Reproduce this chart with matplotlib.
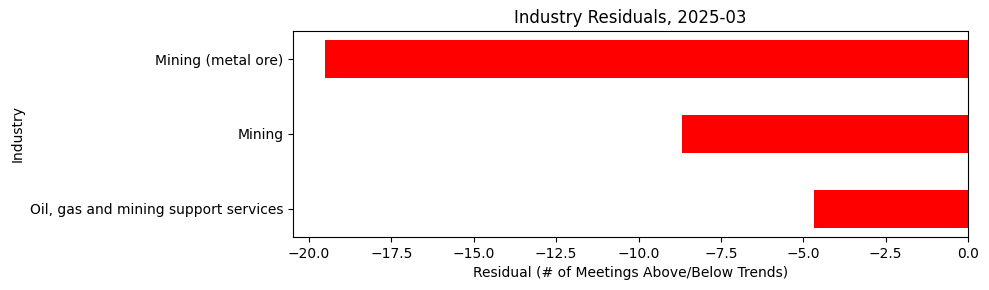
import matplotlib
matplotlib.use("Agg")
import matplotlib.pyplot as plt
import numpy as np

# industries, bottom to top
industries = ["Oil, gas and mining support services", "Mining", "Mining (metal ore)"]
residuals = [-4.67, -8.68, -19.51]

fig = plt.figure(figsize=(9.89, 2.9), dpi=100)
ax = fig.add_axes([0.2963, 0.1828, 0.6825, 0.7103])
pos = np.arange(len(industries))
ax.barh(pos, residuals, height=0.5, color="red")
ax.set_yticks(pos)
ax.set_yticklabels(industries)
ax.set_ylim(-0.375, len(industries) - 1 + 0.375)
ax.set_xlim(min(residuals) * 1.05, 0)
ax.set_xlabel("Residual (# of Meetings Above/Below Trends)")
ax.set_ylabel("Industry")
ax.set_title("Industry Residuals, 2025-03")
fig.savefig("out.png")
